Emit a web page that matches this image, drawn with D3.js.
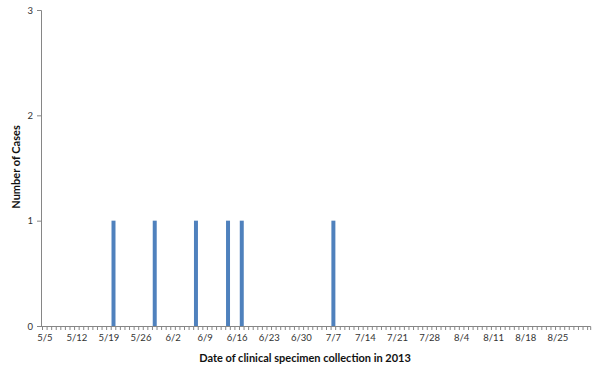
<!DOCTYPE html>
<html>
<head>
<meta charset="utf-8">
<script src="https://cdn.jsdelivr.net/npm/d3@7"></script>
<style>
  body { margin: 0; background: #fff; }
  text { font-family: Lato, "Open Sans", sans-serif; }
</style>
</head>
<body>
<div id="chart"></div>
<script>
var caseDates  = ["2013-05-20", "2013-05-29", "2013-06-07", "2013-06-14", "2013-06-17", "2013-07-07"];
var caseCounts = [1, 1, 1, 1, 1, 1];
var tickLabels = ["5/5", "5/12", "5/19", "5/26", "6/2", "6/9", "6/16", "6/23", "6/30",
                  "7/7", "7/14", "7/21", "7/28", "8/4", "8/11", "8/18", "8/25"];
var yTicks = [0, 1, 2, 3];
var firstDay = "2013-05-05", lastDay = "2013-09-01";

function main() {
    var parse = d3.timeParse("%Y-%m-%d");
    var fmt = d3.timeFormat("%Y-%m-%d");
    var days = d3.timeDay.range(parse(firstDay), d3.timeDay.offset(parse(lastDay), 1)).map(fmt);

    var width = 600, height = 371;
    var svg = d3.select("#chart").append("svg")
        .attr("width", width).attr("height", height);

    var x = d3.scaleBand().domain(days).range([41, 590.7]).paddingInner(0.13).paddingOuter(0.065);
    var y = d3.scaleLinear().domain([0, 3]).range([326, 10]);

    // bars (nudged to sit over the labels like the original)
    svg.append("g").attr("transform", "translate(1.5,0)")
        .selectAll("rect")
        .data(caseDates)
        .enter()
        .append("rect")
        .attr("x", function(d) { return x(d); })
        .attr("width", x.bandwidth())
        .attr("y", function(d, i) { return y(caseCounts[i]); })
        .attr("height", function(d, i) { return y(0) - y(caseCounts[i]); })
        .attr("fill", "#4F81BD");

    // y axis
    var yAxis = d3.axisLeft(y).tickValues(yTicks).tickFormat(d3.format("d")).tickSize(4).tickPadding(4);
    var gy = svg.append("g").attr("transform", "translate(41,0)").call(yAxis);
    gy.select(".domain").attr("stroke", "#868686");
    gy.selectAll(".tick line").attr("stroke", "#868686");
    gy.selectAll("text").attr("font-size", 9.5).attr("fill", "#333");

    // x axis: daily tick marks at day boundaries
    var step = x.step();
    var boundaries = days.map(function(d) { return x(d) - x.paddingInner() * step / 2 + 1.5; });
    boundaries.push(590.7);
    var gx = svg.append("g");
    gx.append("line").attr("x1", 41).attr("x2", 590.7).attr("y1", 326.5).attr("y2", 326.5)
        .attr("stroke", "#868686");
    gx.selectAll("line.tk")
        .data(boundaries)
        .enter()
        .append("line")
        .attr("class", "tk")
        .attr("x1", function(d) { return d; })
        .attr("x2", function(d) { return d; })
        .attr("y1", 326.5).attr("y2", 330)
        .attr("stroke", "#868686");

    var labelDays = tickLabels.map(function(t) {
        var p = t.split("/");
        return fmt(new Date(2013, +p[0] - 1, +p[1]));
    });
    gx.selectAll("text")
        .data(tickLabels)
        .enter()
        .append("text")
        .attr("x", function(d, i) { return x(labelDays[i]) + x.bandwidth() / 2 + 1.5; })
        .attr("y", 341)
        .attr("text-anchor", "middle")
        .attr("font-size", 9.5)
        .attr("fill", "#333")
        .text(function(d) { return d; });

    // axis titles
    svg.append("text")
        .attr("x", 305).attr("y", 362)
        .attr("text-anchor", "middle")
        .attr("font-size", 11)
        .attr("font-weight", "bold")
        .attr("fill", "#111")
        .text("Date of clinical specimen collection in 2013");

    svg.append("text")
        .attr("transform", "translate(20,167) rotate(-90)")
        .attr("text-anchor", "middle")
        .attr("font-size", 11)
        .attr("font-weight", "bold")
        .attr("fill", "#111")
        .text("Number of Cases");
}

main();
</script>
</body>
</html>
